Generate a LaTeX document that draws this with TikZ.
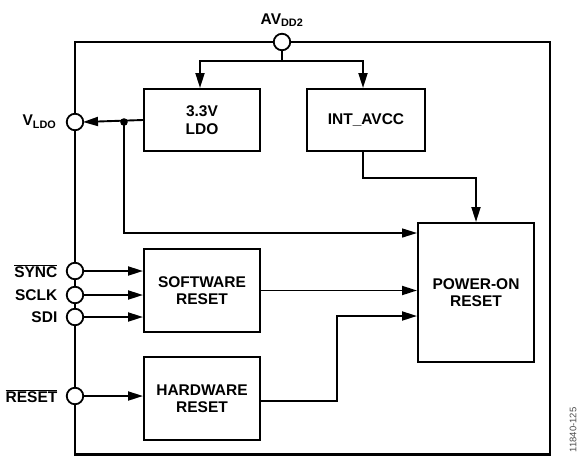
\documentclass[tikz,border=0pt]{standalone}
\usepackage{fontspec}
\setmainfont{Liberation Sans}
\usetikzlibrary{arrows.meta}

\begin{document}
\begin{tikzpicture}[x=1pt, y=-1pt, font=\fontsize{15.5}{17.5}\selectfont\bfseries,
  blk/.style={draw, line width=2pt, align=center, inner sep=0pt},
  pin/.style={circle, draw, fill=white, line width=1.8pt, minimum size=16.5pt, inner sep=0pt},
  wire/.style={line width=1.9pt},
  arr/.style={wire, -{Triangle[length=15pt,width=9pt]}}]
\useasboundingbox (0,0) rectangle (577,456);
\draw[line width=2.8pt] (75,42) rectangle (550,454.5);

\node[blk, minimum width=116pt, minimum height=62pt] (ldo) at (202,120) {3.3V\\LDO};
\node[blk, minimum width=118pt, minimum height=62pt] (avcc) at (366,120) {INT\_AVCC};
\node[blk, minimum width=116pt, minimum height=83pt] (swr) at (202,290.5) {SOFTWARE\\RESET};
\node[blk, minimum width=116pt, minimum height=83pt] (hwr) at (202,398.5) {HARDWARE\\RESET};
\node[blk, minimum width=116pt, minimum height=139pt] (por) at (476,292.5) {POWER-ON\\RESET};

\coordinate (split) at (282,61);
\coordinate (tap) at (124,122);
\coordinate (hbend) at (337,316);

\draw[wire] (282,42) -- (split);
\draw[arr] (split) -| ([xshift=-2pt]ldo.north);
\draw[arr] (split) -| ([xshift=-3pt]avcc.north);
\draw[arr] (ldo.west) -- (83,122);
\draw[arr, line width=1.5pt] (tap) |- ([yshift=-11pt]por.north west);
\fill (tap) circle (3.8pt);
\draw[arr] ([xshift=-3pt]avcc.south) -- ++(0,26) -| (por.north);
\draw[arr] (swr.east) -- (swr.east -| por.west);
\draw[arr] ([yshift=-2.5pt]hwr.east) -| (hbend) -- (hbend -| por.west);

\node[pin] (avdd) at (282,42) {};
\node[pin] (vldo) at (75,122) {};
\node[pin] (sync) at (75,271) {};
\node[pin] (sclk) at (75,295) {};
\node[pin] (sdi) at (75,317) {};
\node[pin] (rst) at (75,396) {};

\draw[arr] (sync) -- (sync -| swr.west);
\draw[arr] (sclk) -- (sclk -| swr.west);
\draw[arr] (sdi) -- (sdi -| swr.west);
\draw[arr] (rst) -- (rst -| hwr.west);

\node (avddl) at (282,20) {AV\textsubscript{DD2}};
\node[anchor=east] (vldol) at ([xshift=-6pt]vldo.west) {V\textsubscript{LDO}};
\node[anchor=east] (syncl) at ([xshift=-5pt]sync.west) {$\overline{\mbox{SYNC}}$};
\node[anchor=east] (sclkl) at ([xshift=-5pt]sclk.west) {SCLK};
\node[anchor=east] (sdil) at ([xshift=-5pt]sdi.west) {SDI};
\node[anchor=east] (rstl) at ([xshift=-5pt]rst.west) {$\overline{\mbox{RESET}}$};
\node[rotate=90, font=\fontsize{9.5}{10}\selectfont, text=black!70] (code) at (573,430) {11840-125};
\end{tikzpicture}
\end{document}
